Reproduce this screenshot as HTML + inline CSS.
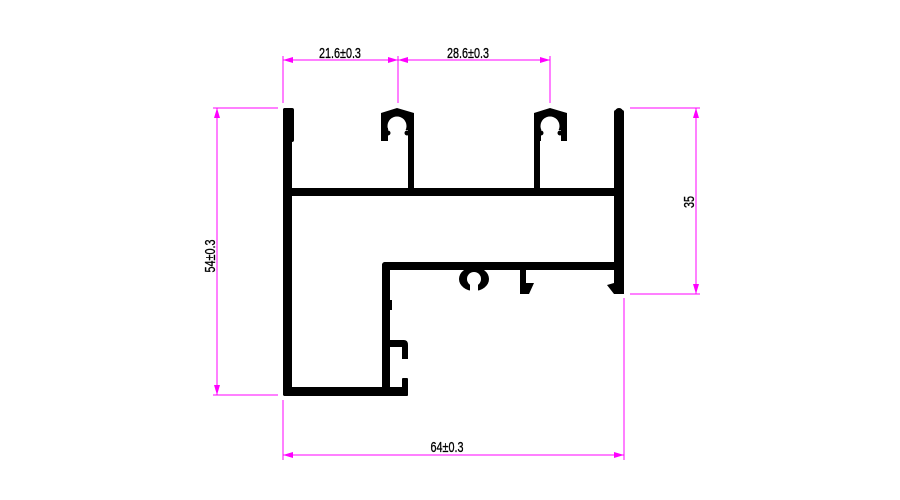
<!DOCTYPE html>
<html><head><style>body{margin:0;background:#fff}svg{display:block}</style></head>
<body>
<svg width="900" height="500" viewBox="0 0 900 500" xmlns="http://www.w3.org/2000/svg">
<defs>
<marker id="a" viewBox="0 0 10 6" refX="10" refY="3" markerWidth="10" markerHeight="6" orient="auto-start-reverse" markerUnits="userSpaceOnUse"><path d="M0,0 L10,3 L0,6 Z" fill="#f0f"/></marker>
</defs>
<g stroke="#f0f" stroke-width="1" fill="none">
<line x1="283" y1="56" x2="283" y2="103"/>
<line x1="398" y1="56" x2="398" y2="103"/>
<line x1="550" y1="56" x2="550" y2="103"/>
<line x1="283" y1="60" x2="398" y2="60" marker-start="url(#a)" marker-end="url(#a)"/>
<line x1="398" y1="60" x2="550" y2="60" marker-start="url(#a)" marker-end="url(#a)"/>
<line x1="213" y1="108" x2="278" y2="108"/>
<line x1="213" y1="395" x2="278" y2="395"/>
<line x1="217" y1="108" x2="217" y2="395" marker-start="url(#a)" marker-end="url(#a)"/>
<line x1="630" y1="108" x2="700" y2="108"/>
<line x1="630" y1="294" x2="700" y2="294"/>
<line x1="696" y1="108" x2="696" y2="294" marker-start="url(#a)" marker-end="url(#a)"/>
<line x1="283" y1="400" x2="283" y2="460"/>
<line x1="624" y1="298" x2="624" y2="460"/>
<line x1="283" y1="455" x2="624" y2="455" marker-start="url(#a)" marker-end="url(#a)"/>
</g>
<g font-family="Liberation Sans, sans-serif" font-size="15" fill="#000" stroke="#000" stroke-width="0.3">
<text x="340" y="58" text-anchor="middle" transform="translate(340 0) scale(0.72 1) translate(-340 0)">21.6±0.3</text>
<text x="468" y="58" text-anchor="middle" transform="translate(468 0) scale(0.72 1) translate(-468 0)">28.6±0.3</text>
<text x="447" y="452" text-anchor="middle" transform="translate(447 0) scale(0.72 1) translate(-447 0)">64±0.3</text>
<text transform="translate(215 256) rotate(-90) scale(0.72 1)" text-anchor="middle">54±0.3</text>
<text transform="translate(694 202) rotate(-90) scale(0.72 1)" text-anchor="middle">35</text>
</g>
<g fill="#000">
<rect x="283" y="108" width="9" height="288" rx="2"/>
<rect x="283" y="108" width="11" height="34" rx="2"/>
<rect x="283" y="387" width="125" height="9" rx="2"/>
<rect x="283" y="188" width="341" height="8"/>
<rect x="614" y="110" width="10" height="184" rx="2"/>
<circle cx="619" cy="112" r="4"/>
<rect x="382" y="262" width="242" height="8" rx="3"/>
<rect x="382" y="262" width="8" height="134" rx="3"/>
<path d="M381,113 L397,108 L414,113 L414,141 L381,141 Z"/>
<path d="M534,113 L550,108 L567,113 L567,141 L534,141 Z"/>
<ellipse cx="474" cy="279" rx="15" ry="12"/>
<rect x="520" y="268" width="6" height="26"/>
<path d="M526,283 L534,283 L529,294 L526,294 Z"/>
<path d="M614,268 L624,268 L624,294 L614,294 L607,285 L614,283 Z"/>
<path d="M388,340 L404,340 Q408,340 408,345 L408,359 L402,359 L402,347 L388,347 Z"/>
<rect x="402" y="378" width="6" height="18" rx="1"/>
<rect x="388" y="300" width="4" height="10"/>
</g>
<g fill="#fff">
<circle cx="397" cy="126" r="9.5"/>
<rect x="388" y="130" width="20" height="12"/>
<circle cx="550" cy="126" r="9.5"/>
<rect x="541" y="130" width="20" height="12"/>
<circle cx="474" cy="279" r="7"/>
<rect x="470" y="280" width="8" height="13"/>
</g>
<g fill="#000">
<rect x="381" y="128" width="7" height="13"/>
<rect x="408" y="134" width="6" height="56"/>
<rect x="408" y="128" width="6" height="13"/>
<rect x="534" y="128" width="6" height="62"/>
<rect x="561" y="128" width="6" height="13"/>
<circle cx="388" cy="133" r="2.5"/>
<circle cx="407" cy="133" r="2.5"/>
<circle cx="541" cy="133" r="2.5"/>
<circle cx="560" cy="133" r="2.5"/>
</g>
</svg>
</body></html>
